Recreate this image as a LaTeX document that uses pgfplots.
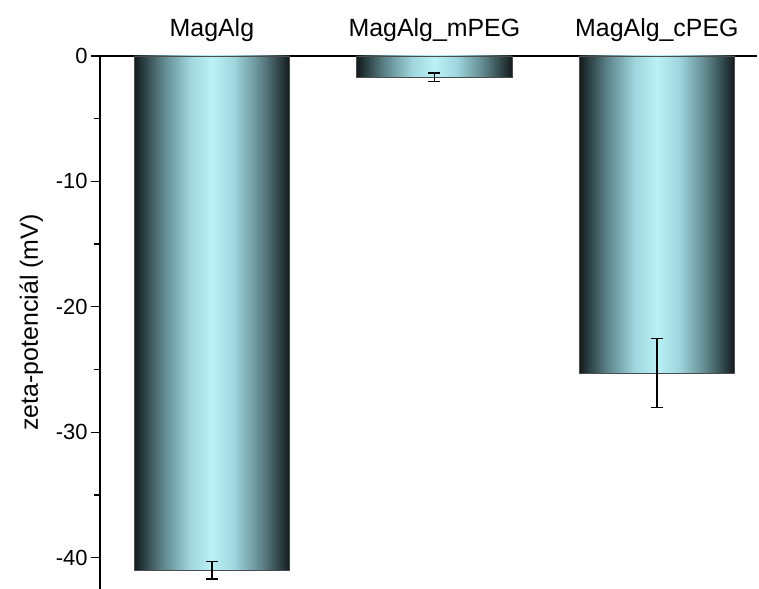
\documentclass[border=0pt]{standalone}
\usepackage{pgfplots}
\pgfplotsset{compat=1.18}
\usepackage{fontspec}
\setmainfont{Liberation Sans}
\definecolor{bardark}{RGB}{18,26,28}
\definecolor{barmid}{RGB}{92,132,138}
\definecolor{barmid2}{RGB}{160,215,222}
\definecolor{barlight}{RGB}{186,241,246}
\pgfdeclarehorizontalshading{barshade}{100bp}{color(0bp)=(bardark); color(25bp)=(bardark); color(34bp)=(barmid); color(43bp)=(barmid2); color(50bp)=(barlight); color(57bp)=(barmid2); color(66bp)=(barmid); color(75bp)=(bardark); color(100bp)=(bardark)}
\pgfplotsset{
  gradbar/.style={ybar, bar width=0.7, bar shift=0pt, draw=black!70, line width=0.8bp,
    shading=barshade,
    error bars/.cd, y dir=both, y explicit,
    error bar style={black, line width=1.3bp},
    error mark options={black, rotate=90, mark size=6bp, line width=1.3bp}},
}
\begin{document}
\begin{tikzpicture}
\useasboundingbox (-100bp,0) rectangle (659bp,589bp);
\begin{axis}[
  scale only axis,
  width=657bp, height=533bp,
  xmin=-0.503, xmax=2.45,
  ymin=-42.5, ymax=0,
  axis x line*=top,
  axis y line*=left,
  axis line style={black, line width=1.3bp},
  xtick={0,1,2},
  xticklabels={MagAlg,MagAlg\_mPEG,MagAlg\_cPEG},
  xtick style={draw=none},
  xticklabel style={font=\fontsize{25}{29}\selectfont, yshift=2bp},
  ytick={0,-10,-20,-30,-40},
  minor ytick={-5,-15,-25,-35},
  tick align=outside,
  major tick length=9bp,
  minor tick length=6bp,
  ytick style={black, line width=1.3bp},
  yticklabel style={font=\fontsize{22}{26}\selectfont, /pgf/number format/assume math mode=true},
  ylabel={zeta-potenciál (mV)},
  ylabel style={font=\fontsize{25}{29}\selectfont, yshift=6bp},
  clip=false,
]
\addplot[gradbar] coordinates {(0,-41.0) +- (0,0.7)};
\addplot[gradbar] coordinates {(1,-1.7) +- (0,0.35)};
\addplot[gradbar] coordinates {(2,-25.3) +- (0,2.75)};
\end{axis}
\end{tikzpicture}
\end{document}
